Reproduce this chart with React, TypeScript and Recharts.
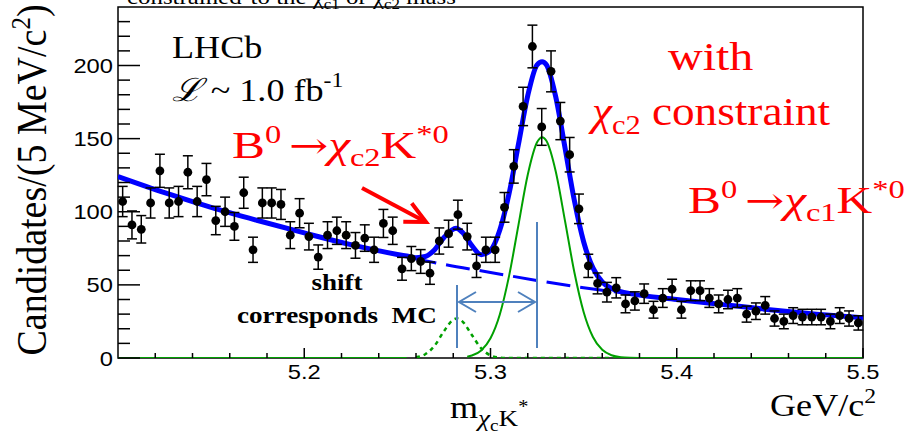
import React from 'react';
import { ComposedChart, Line, Scatter, XAxis, YAxis, ErrorBar, ReferenceArea } from 'recharts';

// ---- data ----
const BIN_CENTERS = [
  5.1025, 5.1075, 5.1125, 5.1175, 5.1225, 5.1275, 5.1325, 5.1375, 5.1425, 5.1475,
  5.1525, 5.1575, 5.1625, 5.1675, 5.1725, 5.1775, 5.1825, 5.1875, 5.1925, 5.1975,
  5.2025, 5.2075, 5.2125, 5.2175, 5.2225, 5.2275, 5.2325, 5.2375, 5.2425, 5.2475,
  5.2525, 5.2575, 5.2625, 5.2675, 5.2725, 5.2775, 5.2825, 5.2875, 5.2925, 5.2975,
  5.3025, 5.3075, 5.3125, 5.3175, 5.3225, 5.3275, 5.3325, 5.3375, 5.3425, 5.3475,
  5.3525, 5.3575, 5.3625, 5.3675, 5.3725, 5.3775, 5.3825, 5.3875, 5.3925, 5.3975,
  5.4025, 5.4075, 5.4125, 5.4175, 5.4225, 5.4275, 5.4325, 5.4375, 5.4425, 5.4475,
  5.4525, 5.4575, 5.4625, 5.4675, 5.4725, 5.4775, 5.4825, 5.4875, 5.4925, 5.4975,
];
const CANDIDATES = [
  107, 91, 88, 106, 128, 106, 107, 127, 107, 122,
  94, 100, 90, 113, 74, 106, 106, 105, 84, 99,
  83, 69, 84, 87, 84, 77, 82, 74, 92, 87,
  61, 68, 66, 58, 80, 85, 98, 83, 63, 74,
  74, 103, 131, 172, 213, 158, 196, 162, 139, 102,
  63, 51, 45, 48, 37, 39, 44, 33, 41, 47,
  33, 46, 46, 41, 37, 40, 41, 30, 32, 36,
  27, 25, 29, 28, 28, 28, 25, 29, 27, 24,
];

const FIT_MASS = [
  5.1, 5.125, 5.15, 5.175, 5.2, 5.225, 5.25, 5.255, 5.26, 5.265, 5.27, 5.275, 5.2815,
  5.285, 5.29, 5.295, 5.3, 5.305, 5.31, 5.315, 5.32, 5.325, 5.3277, 5.33, 5.335, 5.34,
  5.345, 5.35, 5.355, 5.36, 5.365, 5.37, 5.375, 5.4, 5.425, 5.45, 5.475, 5.5,
];
const FIT_TOTAL = [
  124, 113, 103, 94, 85.5, 77.5, 70.8, 69.7, 68.6, 69.4, 74.1, 82.4, 88.7,
  85.8, 76.8, 70.6, 73.6, 87.5, 112.6, 146.1, 179.4, 200.5, 202.5, 200.5, 178.7, 143.8,
  107.8, 79.5, 61.6, 52, 47.5, 45.3, 44, 40, 36.5, 33, 30, 27.5,
];

const BKG_MASS = [5.1, 5.125, 5.15, 5.175, 5.2, 5.225, 5.25, 5.275, 5.3, 5.325, 5.35, 5.375, 5.4, 5.425, 5.45, 5.475, 5.5];
const BKG = [124, 113, 103, 94, 85.5, 77.5, 70.5, 64, 58.5, 53, 48, 44, 40, 36.5, 33, 30, 27.5];

const CHIC1_MASS = [
  5.1, 5.255, 5.27, 5.2875, 5.29, 5.295, 5.3, 5.305, 5.31, 5.315, 5.32, 5.325, 5.3277,
  5.33, 5.335, 5.34, 5.345, 5.35, 5.355, 5.36, 5.365, 5.37, 5.375, 5.38, 5.5,
];
const CHIC1 = [
  0, 0, null, 0.9, 1.7, 5.2, 13.5, 29.8, 56.3, 90.9, 125.3, 147.5, 151,
  148.5, 127.7, 93.8, 58.8, 31.5, 14.4, 5.6, 1.9, 0.5, 0.1, 0, 0,
];

const CHIC2_MASS = [5.26, 5.265, 5.27, 5.275, 5.28, 5.2819, 5.285, 5.29, 5.295, 5.3, 5.305, 5.31, 5.37];
const CHIC2 = [0.5, 2.6, 8.4, 18.3, 26.2, 27, 24.9, 15.7, 6.6, 1.8, 0.3, 0, 0];

const X_TICKS = [5.12, 5.14, 5.16, 5.18, 5.2, 5.22, 5.24, 5.26, 5.28, 5.3, 5.32, 5.34, 5.36, 5.38, 5.4, 5.42, 5.44, 5.46, 5.48, 5.5];
const X_LABELS = ['5.2', '5.3', '5.4', '5.5'];
const Y_TICKS = [0, 10, 20, 30, 40, 50, 60, 70, 80, 90, 100, 110, 120, 130, 140, 150, 160, 170, 180, 190, 200, 210, 220, 230];
const Y_LABELS = ['0', '50', '100', '150', '200'];

// ---- tables built for the library ----
const points = BIN_CENTERS.map((x, i) => ({ x, y: CANDIDATES[i], err: Math.sqrt(CANDIDATES[i]) }));
const toSeries = (xs: number[], ys: (number | null)[]) => xs.map((x, i) => ({ x, y: ys[i] }));
const totalData = toSeries(FIT_MASS, FIT_TOTAL);
const bkgData = toSeries(BKG_MASS, BKG);
const c1Data = toSeries(CHIC1_MASS, CHIC1);
const c2Data = toSeries(CHIC2_MASS, CHIC2);

const W = 910;
const H = 437;
const M = { top: 7, right: 47, bottom: 0, left: 0 };
const SX = 1.13; // horizontal stretch of the original picture
const SERIF = '"Liberation Serif", "Times New Roman", serif';
const SANS = '"Liberation Sans", Arial, sans-serif';
const ARROWFONT = '"DejaVu Serif", "DejaVu Sans", serif';
const RED = '#ff0000';
const ARROW_BLUE = '#4f81bd';

const T = ({ x, y, size, fill = '#000', anchor = 'start', weight = 'normal', family = SERIF, sx = SX, children }: any) => (
  <text
    transform={`translate(${x},${y}) scale(${sx},1)`}
    x={0}
    y={0}
    fontSize={size}
    fill={fill}
    textAnchor={anchor}
    fontWeight={weight}
    fontFamily={family}
  >
    {children}
  </text>
);

const XTick = (props: any) => {
  const { x, y, payload } = props;
  const v: number = payload.value;
  const label = X_LABELS.find((l) => Math.abs(parseFloat(l) - v) < 1e-6);
  return (
    <g>
      <line x1={x} x2={x} y1={y} y2={y - (label ? 10 : 5)} stroke="#000" strokeWidth={1.5} />
      {label && (
        <T x={x} y={y + 21} size={21} anchor="middle" family={SANS}>
          {label}
        </T>
      )}
    </g>
  );
};

const YTick = (props: any) => {
  const { x, y, payload } = props;
  const v: number = payload.value;
  const label = Y_LABELS.find((l) => parseFloat(l) === v);
  return (
    <g>
      <line x1={x} x2={x + (label ? 22 : 12)} y1={y} y2={y} stroke="#000" strokeWidth={1.5} />
      {label && (
        <T x={x - 5} y={y + 7.5} size={21} anchor="end" family={SANS}>
          {label}
        </T>
      )}
    </g>
  );
};

const Dot = (props: any) => <circle cx={props.cx} cy={props.cy} r={4.4} fill="#000" />;

const Decay = ({ x, y, sub }: any) => (
  <T x={x} y={y} size={38} fill={RED} sx={1.3}>
    B<tspan dy={-15} fontSize={25}>0</tspan>
    <tspan dy={15} fontFamily={ARROWFONT} fontSize={36} dx={6}>→</tspan>
    <tspan fontStyle="italic">χ</tspan>
    <tspan dy={8} fontSize={25}>{sub}</tspan>
    <tspan dy={-8}>K</tspan>
    <tspan dy={-15} fontSize={25}>*0</tspan>
  </T>
);

export default function App() {
  return (
    <div style={{ position: 'absolute', left: 0, top: 0, width: W, height: H, background: '#fff' }}>
      <ComposedChart width={W} height={H} margin={M}>
        <XAxis
          dataKey="x"
          type="number"
          domain={[5.1, 5.5]}
          allowDataOverflow
          ticks={X_TICKS}
          interval={0}
          height={79}
          tickSize={0}
          tickMargin={0}
          axisLine={false}
          tickLine={false}
          tick={<XTick />}
        />
        <YAxis
          type="number"
          domain={[0, 240]}
          allowDataOverflow
          ticks={Y_TICKS}
          interval={0}
          width={118}
          tickSize={0}
          tickMargin={0}
          axisLine={false}
          tickLine={false}
          tick={<YTick />}
        />
        <ReferenceArea x1={5.1} x2={5.5} y1={0} y2={240} fill="none" fillOpacity={0} stroke="#000" strokeWidth={1.5} />
        <Line data={bkgData} dataKey="y" type="monotone" stroke="#0000ff" strokeWidth={3} strokeDasharray="24 10" dot={false} isAnimationActive={false} />
        <Line data={c1Data} dataKey="y" type="monotone" stroke="#00a000" strokeWidth={2} dot={false} isAnimationActive={false} />
        <Line data={c2Data} dataKey="y" type="monotone" stroke="#00a000" strokeWidth={2.5} strokeDasharray="4 4" dot={false} isAnimationActive={false} />
        <Line data={totalData} dataKey="y" type="monotone" stroke="#0000ff" strokeWidth={5} dot={false} isAnimationActive={false} />
        <Scatter data={points} dataKey="y" shape={<Dot />} isAnimationActive={false}>
          <ErrorBar dataKey="err" direction="y" width={5} stroke="#000" strokeWidth={1.5} />
        </Scatter>
      </ComposedChart>

      <svg width={W} height={H} style={{ position: 'absolute', left: 0, top: 0, pointerEvents: 'none' }}>
        {/* clipped title at the top */}
        <T x={127} y={4} size={22}>
          constrained<tspan dx={8}>to the χ</tspan>
          <tspan dy={5} fontSize={15}>c1</tspan>
          <tspan dy={-5}> or χ</tspan>
          <tspan dy={5} fontSize={15}>c2</tspan>
          <tspan dy={-5}> mass</tspan>
        </T>

        {/* y axis title */}
        <text
          transform={`translate(46,180) rotate(-90) scale(1,${SX})`}
          fontSize={38}
          fontFamily={SERIF}
          textAnchor="middle"
          fill="#000"
        >
          Candidates/(5 MeV/c<tspan dy={-14} fontSize={25}>2</tspan>
          <tspan dy={14}>)</tspan>
        </text>

        {/* x axis title */}
        <T x={450} y={418} size={32}>
          m<tspan dy={8} fontSize={24} fontStyle="italic">χ</tspan>
          <tspan dy={5} fontSize={17}>c</tspan>
          <tspan dy={-5} fontSize={24}>K</tspan>
          <tspan dy={-13} fontSize={18}>*</tspan>
        </T>
        <T x={770} y={416} size={32}>
          GeV/c<tspan dy={-13} fontSize={21}>2</tspan>
        </T>

        {/* LHCb labels */}
        <T x={172} y={58} size={32}>LHCb</T>
        <T x={172} y={101} size={32}>
          <tspan fontStyle="italic">ℒ</tspan> ~ 1.0 fb<tspan dy={-14} fontSize={21}>-1</tspan>
        </T>

        {/* red annotations */}
        <Decay x={232} y={158} sub="c2" />
        <T x={668} y={70} size={40} fill={RED} sx={1.2}>with</T>
        <T x={592} y={125} size={40} fill={RED}>
          <tspan fontStyle="italic">χ</tspan>
          <tspan dy={9} fontSize={27}>c2</tspan>
          <tspan dy={-9}> constraint</tspan>
        </T>
        <Decay x={688} y={213} sub="c1" />
        <line x1={362} y1={188} x2={424} y2={221} stroke={RED} strokeWidth={4} />
        <polyline points="411.7,203.3 426,222 403.3,221.7" fill="none" stroke={RED} strokeWidth={4} />

        {/* shift annotation */}
        <T x={337} y={290} size={24} weight="bold" anchor="middle">shift</T>
        <T x={237} y={323} size={24} weight="bold">
          corresponds<tspan dx={12}>MC</tspan>
        </T>
        <line x1={457} y1={285} x2={457} y2={348} stroke={ARROW_BLUE} strokeWidth={2} />
        <line x1={537} y1={222} x2={537} y2={348} stroke={ARROW_BLUE} strokeWidth={2} />
        <line x1={459} y1={302} x2={535} y2={302} stroke={ARROW_BLUE} strokeWidth={2} />
        <polyline points="476,292 459,302 476,312" fill="none" stroke={ARROW_BLUE} strokeWidth={2} />
        <polyline points="518,292 535,302 518,312" fill="none" stroke={ARROW_BLUE} strokeWidth={2} />
      </svg>
    </div>
  );
}
